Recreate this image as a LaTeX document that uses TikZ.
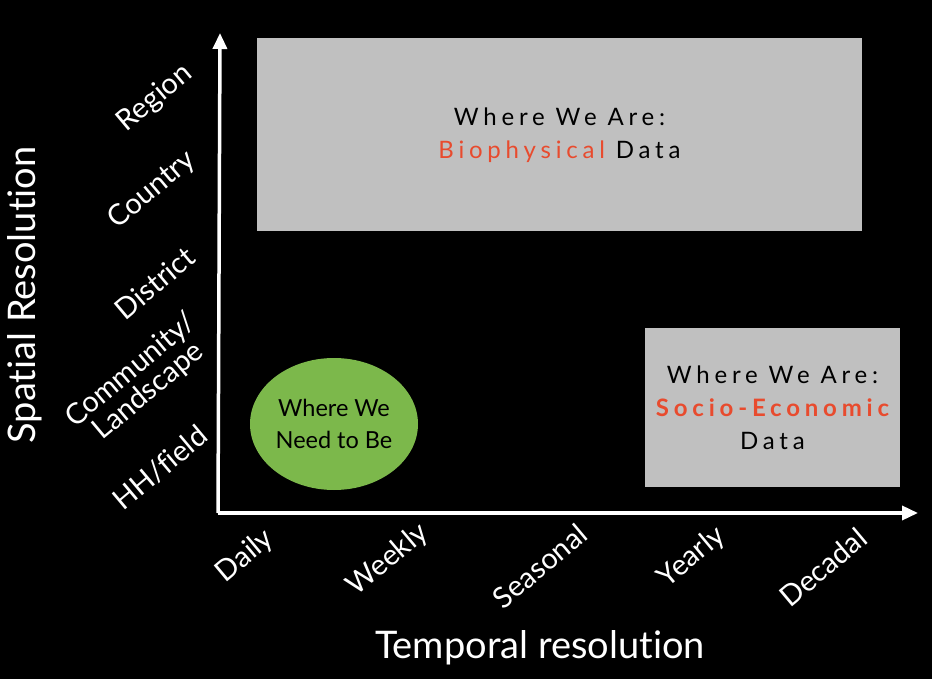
\documentclass[tikz,border=0pt]{standalone}
\usepackage{fontspec}
\setmainfont{Lato}[Ligatures=NoCommon]
\newfontfamily\spacedfont{Lato}[LetterSpace=20,Ligatures=NoCommon]
\usetikzlibrary{arrows.meta,shapes.geometric}
\definecolor{boxgray}{HTML}{C0C0C0}
\definecolor{hotred}{HTML}{E84B2E}
\definecolor{leaf}{HTML}{7CB84B}
\begin{document}
\begin{tikzpicture}[x=1pt,y=-1pt,
  axis/.style={draw=white,line width=3.5pt,-{Triangle[length=16pt,width=14pt]}},
  ylab/.style={text=white,font=\fontsize{29}{29}\selectfont,rotate=40,align=center,inner sep=0pt},
  xlab/.style={text=white,font=\fontsize{29}{29}\selectfont,rotate=40,inner sep=0pt},
  title/.style={text=white,font=\fontsize{38}{38}\selectfont,inner sep=0pt},
  databox/.style={fill=boxgray,draw=none,align=center,font=\spacedfont\fontsize{24}{33}\selectfont}]
\fill[black] (0,0) rectangle (932,679);
\useasboundingbox (0,0) rectangle (932,679);
\coordinate (o) at (220,513);
\coordinate (ytop) at (220,33);
\coordinate (xend) at (918,513);
\draw[axis] (218,513) -- (ytop);
\draw[axis] (218,513) -- (xend);
\fill[boxgray] (257,38) rectangle (862,231);
\node[align=center,font=\spacedfont\fontsize{24}{33}\selectfont] (bio) at (559.5,135)
  {Where We Are:\\ \textcolor{hotred}{Biophysical} Data};
\node[databox,minimum width=255pt,minimum height=159pt] (soc) at (772.5,407.5)
  {Where We Are:\\ \textcolor{hotred}{\bfseries Socio-Economic}\\ Data};
\node[ellipse,fill=leaf,minimum width=168pt,minimum height=132pt,align=center,
  font=\fontsize{23.5}{32}\selectfont,inner sep=0pt] (need) at (334,424)
  {Where We\\ Need to Be};
\node[ylab] (r1) at (155,98) {Region};
\node[ylab] (r2) at (152,190) {Country};
\node[ylab] (r3) at (155,283) {District};
\node[ylab,font=\fontsize{29}{22}\selectfont] (r4) at (140,381) {Community/\\Landscape};
\node[ylab] (r5) at (160,468) {HH/field};
\node[title,rotate=90] (ylabel) at (25,295) {Spatial Resolution};
\node[xlab] (t1) at (245,556) {Daily};
\node[xlab] (t2) at (388,560) {Weekly};
\node[xlab] (t3) at (540,566) {Seasonal};
\node[xlab] (t4) at (692,557) {Yearly};
\node[xlab] (t5) at (823,567) {Decadal};
\node[title] (xlabel) at (540,648) {Temporal resolution};
\end{tikzpicture}
\end{document}
